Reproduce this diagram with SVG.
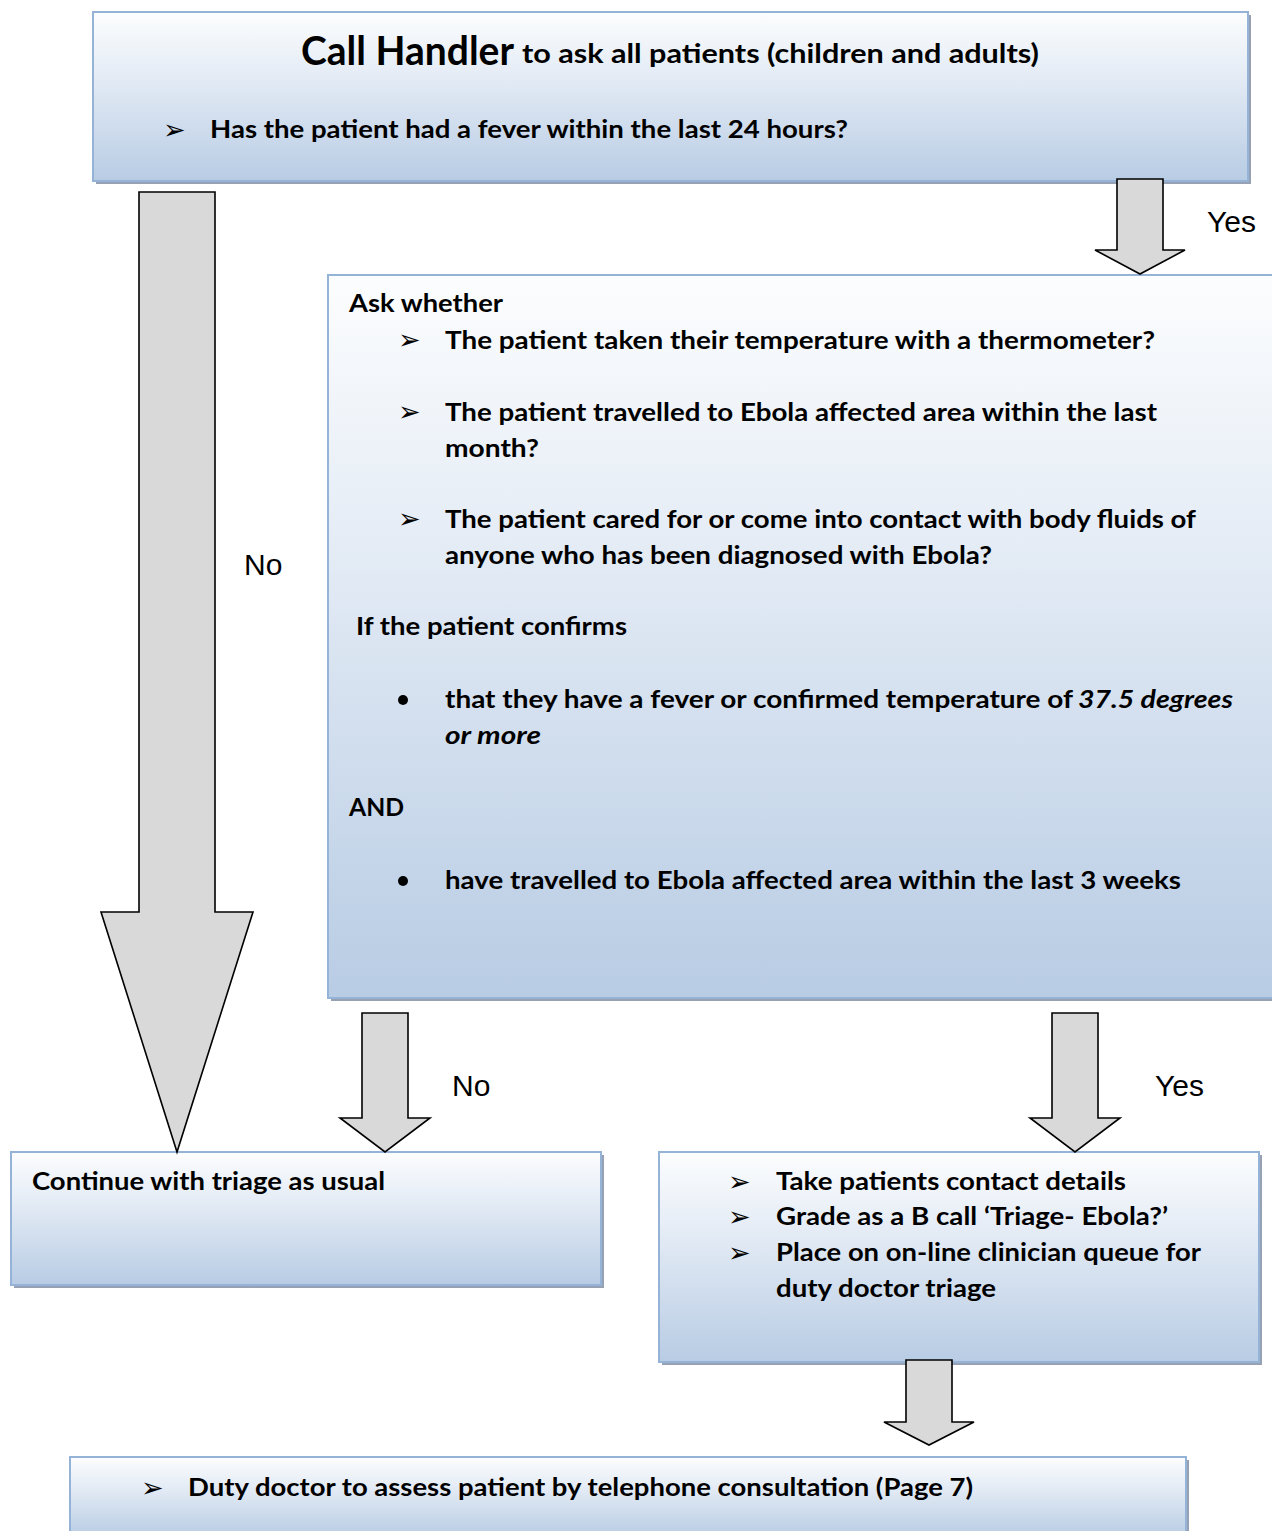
<svg xmlns="http://www.w3.org/2000/svg" width="1272" height="1531" viewBox="0 0 1272 1531">
<defs>
<linearGradient id="g" x1="0" y1="0" x2="0" y2="1">
<stop offset="0" stop-color="#fcfdfe"/>
<stop offset="0.35" stop-color="#e6edf6"/>
<stop offset="1" stop-color="#b8cce4"/>
</linearGradient>
<style>
.box{fill:url(#g);stroke:#95b3d7;stroke-width:2}
.sh{fill:#96a2b3}
.arr{fill:#d9d9d9;stroke:#000;stroke-width:1.6;stroke-linejoin:miter}
.t{font-family:Lato,"Open Sans","Liberation Sans",sans-serif;font-weight:bold;font-size:24px;fill:#000}
.big{font-size:40px}
.mid{font-size:27px}
.i{font-style:italic}
.lbl{font-family:"Liberation Sans",Arial,sans-serif;font-size:30px;fill:#000}
.b{font-family:"DejaVu Sans",sans-serif;font-size:27px;fill:#000}
.dot{fill:#000}
</style>
</defs>

<g id="node-call-handler">
<rect class="sh" x="96" y="15" width="1155" height="169"/>
<rect class="box" x="93" y="12" width="1155" height="169"/>
<text class="t big" x="301" y="65" textLength="213" lengthAdjust="spacingAndGlyphs">Call Handler</text>
<text class="t mid" x="522" y="63" textLength="517" lengthAdjust="spacingAndGlyphs">to ask all patients (children and adults)</text>
<text class="b" x="163" y="139">➢</text>
<text class="t" x="210" y="138" textLength="638" lengthAdjust="spacingAndGlyphs">Has the patient had a fever within the last 24 hours?</text>
</g>

<g id="node-ask-whether">
<rect class="sh" x="331" y="278" width="960" height="723"/>
<rect class="box" x="328" y="275" width="960" height="723"/>
<text class="t" x="349" y="312" textLength="154" lengthAdjust="spacingAndGlyphs">Ask whether</text>
<text class="b" x="398" y="349">➢</text>
<text class="t" x="445" y="349" textLength="710" lengthAdjust="spacingAndGlyphs">The patient taken their temperature with a thermometer?</text>
<text class="b" x="398" y="421">➢</text>
<text class="t" x="445" y="421" textLength="712" lengthAdjust="spacingAndGlyphs">The patient travelled to Ebola affected area within the last</text>
<text class="t" x="445" y="457" textLength="94" lengthAdjust="spacingAndGlyphs">month?</text>
<text class="b" x="398" y="528">➢</text>
<text class="t" x="445" y="528" textLength="751" lengthAdjust="spacingAndGlyphs">The patient cared for or come into contact with body fluids of</text>
<text class="t" x="445" y="564" textLength="547" lengthAdjust="spacingAndGlyphs">anyone who has been diagnosed with Ebola?</text>
<text class="t" x="356" y="635" textLength="271" lengthAdjust="spacingAndGlyphs">If the patient confirms</text>
<circle class="dot" cx="403" cy="700" r="5"/>
<text class="t" x="445" y="708" textLength="628" lengthAdjust="spacingAndGlyphs">that they have a fever or confirmed temperature of</text>
<text class="t i" x="1078" y="708" textLength="155" lengthAdjust="spacingAndGlyphs">37.5 degrees</text>
<text class="t i" x="445" y="744" textLength="96" lengthAdjust="spacingAndGlyphs">or more</text>
<text class="t" x="349" y="816" textLength="55" lengthAdjust="spacingAndGlyphs">AND</text>
<circle class="dot" cx="403" cy="881" r="5"/>
<text class="t" x="445" y="889" textLength="736" lengthAdjust="spacingAndGlyphs">have travelled to Ebola affected area within the last 3 weeks</text>
</g>

<g id="node-continue">
<rect class="sh" x="14" y="1155" width="590" height="133"/>
<rect class="box" x="11" y="1152" width="590" height="133"/>
<text class="t" x="32" y="1190" textLength="353" lengthAdjust="spacingAndGlyphs">Continue with triage as usual</text>
</g>

<g id="node-take-details">
<rect class="sh" x="662" y="1155" width="600" height="210"/>
<rect class="box" x="659" y="1152" width="600" height="210"/>
<text class="b" x="728" y="1191">➢</text>
<text class="t" x="776" y="1190" textLength="350" lengthAdjust="spacingAndGlyphs">Take patients contact details</text>
<text class="b" x="728" y="1226">➢</text>
<text class="t" x="776" y="1225" textLength="392" lengthAdjust="spacingAndGlyphs">Grade as a B call ‘Triage- Ebola?’</text>
<text class="b" x="728" y="1262">➢</text>
<text class="t" x="776" y="1261" textLength="425" lengthAdjust="spacingAndGlyphs">Place on on-line clinician queue for</text>
<text class="t" x="776" y="1297" textLength="220" lengthAdjust="spacingAndGlyphs">duty doctor triage</text>
</g>

<g id="node-duty-doctor">
<rect class="sh" x="73" y="1460" width="1116" height="80"/>
<rect class="box" x="70" y="1457" width="1116" height="80"/>
<text class="b" x="141" y="1497">➢</text>
<text class="t" x="188" y="1496" textLength="785" lengthAdjust="spacingAndGlyphs">Duty doctor to assess patient by telephone consultation (Page 7)</text>
</g>

<g id="connectors">
<polygon class="arr" points="1117,179 1163,179 1163,250 1185,250 1140,274 1095,250 1117,250"/>
<polygon class="arr" points="139,192 215,192 215,912 253,912 177,1152 101,912 139,912"/>
<polygon class="arr" points="362,1013 408,1013 408,1118 430,1118 385,1152 340,1118 362,1118"/>
<polygon class="arr" points="1052,1013 1098,1013 1098,1118 1120,1118 1075,1152 1030,1118 1052,1118"/>
<polygon class="arr" points="906,1360 952,1360 952,1422 974,1422 929,1445 884,1422 906,1422"/>
<text class="lbl" x="1207" y="232">Yes</text>
<text class="lbl" x="244" y="575">No</text>
<text class="lbl" x="452" y="1096">No</text>
<text class="lbl" x="1155" y="1096">Yes</text>
</g>
</svg>
